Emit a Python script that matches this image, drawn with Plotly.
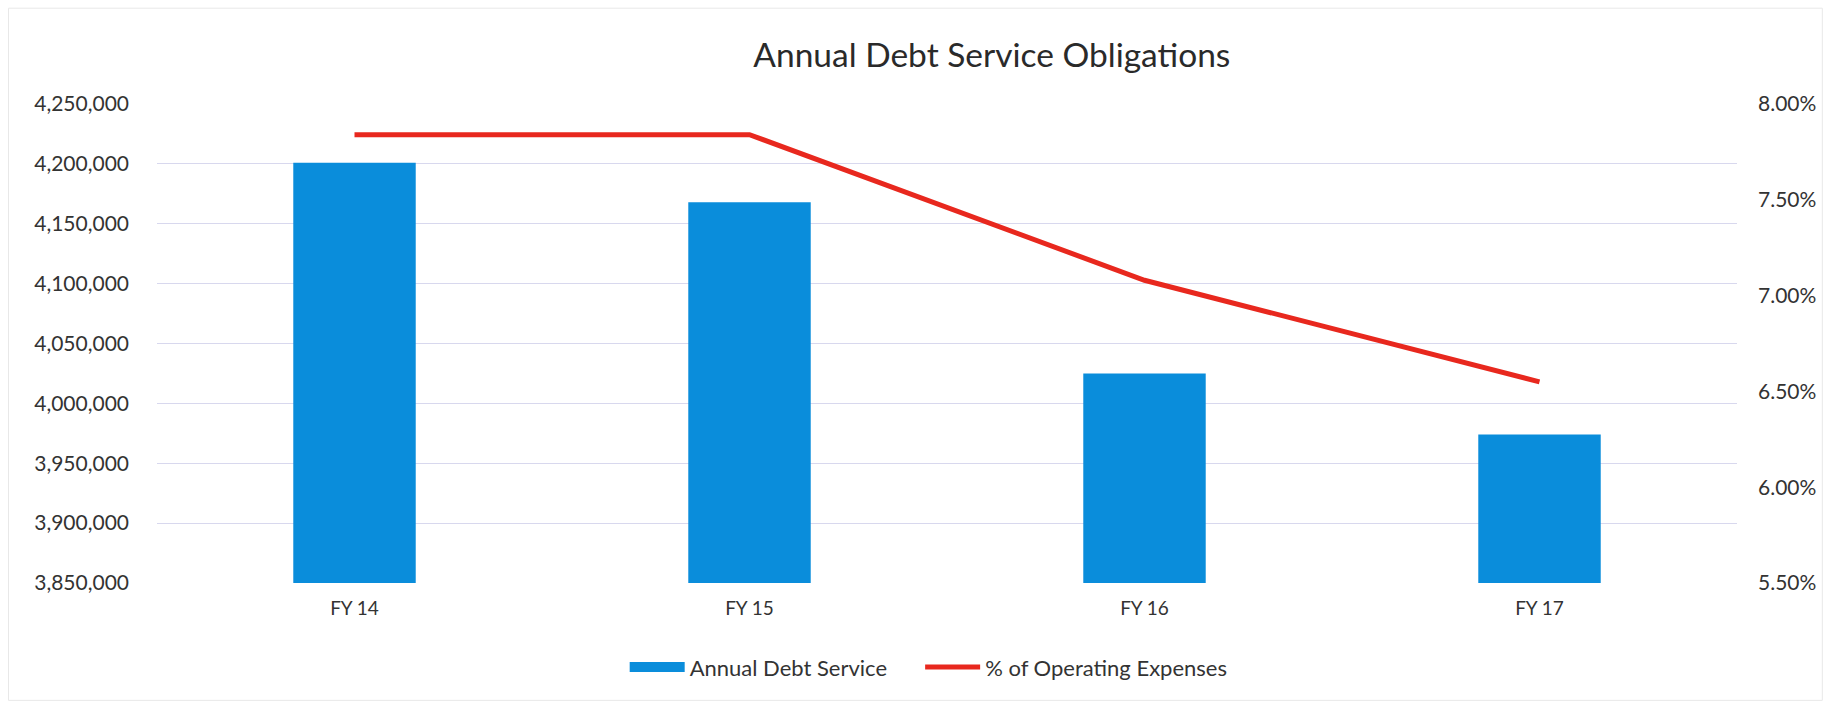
import plotly.graph_objects as go

categories = ["FY 14", "FY 15", "FY 16", "FY 17"]
debt_service = [4201000, 4168000, 4025000, 3974000]
pct_operating = [7.84, 7.84, 7.08, 6.55]

FONT = "Lato"
BLUE = "#0a8ddb"
RED = "#e8281e"
fig = go.Figure()
fig.add_trace(go.Bar(
    x=categories, y=debt_service, name="Annual Debt Service",
    marker=dict(color=BLUE, line=dict(width=0)), width=0.31, showlegend=False,
))
# legend swatch for the bars (wide rectangle like the original)
fig.add_trace(go.Scatter(
    x=[None], y=[None], name="Annual Debt Service", mode="lines",
    line=dict(color=BLUE, width=12), showlegend=True, legend="legend",
))
fig.add_trace(go.Scatter(
    x=categories, y=pct_operating, name="% of Operating Expenses",
    yaxis="y2", mode="lines", line=dict(color=RED, width=5), legend="legend2",
))

legend_common = dict(orientation="h", xanchor="left", y=-0.176, yanchor="middle",
                     font=dict(size=22), itemwidth=55, bgcolor="rgba(0,0,0,0)")

fig.update_layout(
    width=1830, height=704,
    paper_bgcolor="white", plot_bgcolor="white",
    margin=dict(l=157, r=93, t=104, b=121),
    font=dict(family=FONT, color="#333333", size=19),
    title=dict(text="Annual Debt Service Obligations", x=0.542, xanchor="center",
               y=0.922, yanchor="middle", font=dict(size=33.5, color="#2a2a2a", family=FONT)),
    xaxis=dict(showgrid=False, showline=False, zeroline=False, ticks="",
               tickfont=dict(size=19), ticklabelstandoff=12),
    yaxis=dict(range=[3850000, 4250000], dtick=50000, tickformat=",",
               showgrid=True, gridcolor="#d8d8ee", gridwidth=1, zeroline=False,
               showline=False, ticks="", tickfont=dict(size=21), ticklabelstandoff=27),
    yaxis2=dict(range=[5.5, 8.0], dtick=0.5, tickformat=".2f", ticksuffix="%",
                overlaying="y", side="right", showgrid=False, zeroline=False,
                showline=False, ticks="", tickfont=dict(size=21), ticklabelstandoff=20),
    legend=dict(x=0.296, **legend_common),
    legend2=dict(x=0.483, **legend_common),
    showlegend=True,
    shapes=[dict(type="rect", xref="paper", yref="paper", x0=-0.094, x1=1.054, y0=-0.245, y1=1.2,
                 line=dict(color="#e8e8e8", width=1), layer="below")],
)

fig.write_html("out.html")
